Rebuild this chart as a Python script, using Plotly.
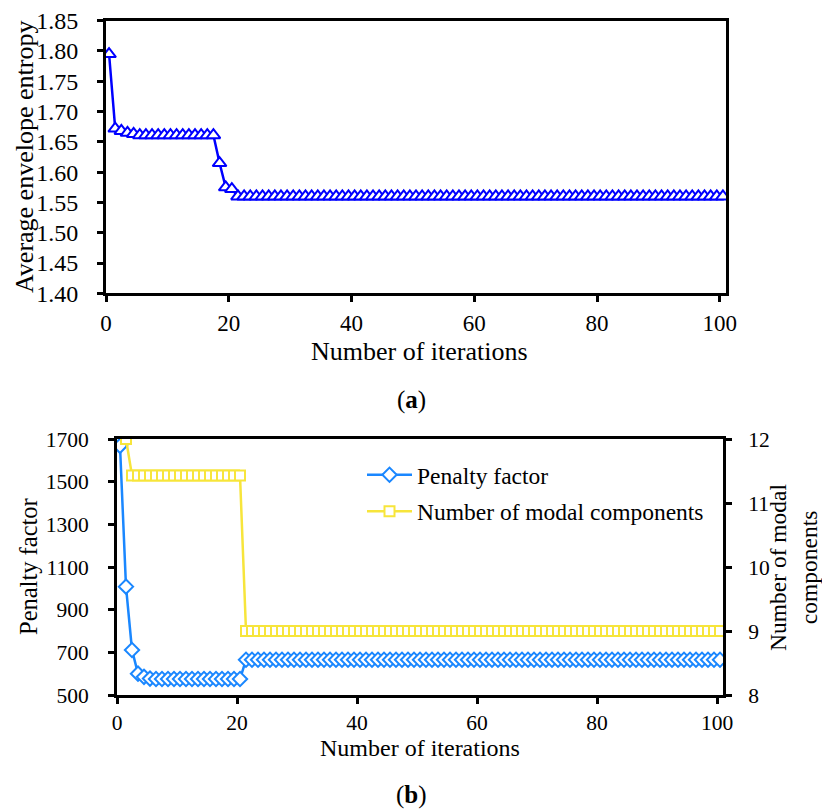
import plotly.graph_objects as go

# ---------------- data ----------------
iterations = list(range(0, 101))  # 0..100

entropy = ([1.795, 1.672, 1.668, 1.665, 1.663] + [1.661] * 13 +
           [1.615, 1.575, 1.572] + [1.560] * 80)

penalty = ([1668, 1008, 711, 600, 585, 577] + [575] * 15 + [665] * 80)

modal_iters = list(range(1, 101))
modal = [12.0] + [11.43] * 19 + [9.0] * 80

x_ticks = [0, 20, 40, 60, 80, 100]

FONT = "Liberation Serif"
W, H = 822, 809
BLUE = "#0000FF"
PBLUE = "#1A87FF"
YEL = "#F7E53B"

fig = go.Figure()

# top chart
fig.add_trace(go.Scatter(
    x=[i + 0.5 for i in iterations], y=entropy, mode="lines+markers",
    line=dict(color=BLUE, width=2.5),
    marker=dict(symbol="triangle-up", size=12, color="white",
                line=dict(color=BLUE, width=2)),
    xaxis="x", yaxis="y", showlegend=False, name="Average envelope entropy"))

# bottom chart
fig.add_trace(go.Scatter(
    x=[i + 0.5 for i in iterations], y=penalty, mode="lines+markers",
    name="Penalty factor", legendgroup="a",
    line=dict(color=PBLUE, width=2.5),
    marker=dict(symbol="diamond", size=11, color="white",
                line=dict(color=PBLUE, width=2)),
    xaxis="x2", yaxis="y2"))
fig.add_trace(go.Scatter(
    x=[i + 0.5 for i in modal_iters], y=modal, mode="lines+markers",
    name="Number of modal components", legendgroup="b",
    line=dict(color=YEL, width=2.5),
    marker=dict(symbol="square", size=10, color="white",
                line=dict(color=YEL, width=2)),
    xaxis="x2", yaxis="y3"))


def ax(size, standoff, **kw):
    d = dict(showgrid=False, zeroline=False, showline=True, automargin=False,
             linecolor="black", linewidth=3, ticks="outside",
             ticklen=6, tickwidth=2.5, tickcolor="black",
             ticklabelstandoff=standoff,
             tickfont=dict(family=FONT, size=size, color="black"))
    d.update(kw)
    return d


fig.update_layout(
    width=W, height=H,
    margin=dict(l=0, r=0, t=0, b=0, autoexpand=False),
    paper_bgcolor="white", plot_bgcolor="white",
    font=dict(family=FONT, size=22, color="black"),
    xaxis=ax(23, 1, domain=[106 / W, 726 / W], range=[0, 101],
             tickvals=x_ticks, anchor="y", mirror=True),
    yaxis=ax(24, 14, domain=[1 - 293.3 / H, 1 - 20.7 / H], range=[1.40, 1.85],
             dtick=0.05, tick0=1.40, tickformat=".2f", anchor="x",
             mirror=True),
    xaxis2=ax(21.5, 0, domain=[117 / W, 723 / W], range=[0, 101],
              tickvals=x_ticks, anchor="y2", mirror=True),
    yaxis2=ax(21.5, 15, domain=[1 - 695 / H, 1 - 439 / H], range=[500, 1700],
              dtick=200, tick0=500, anchor="x2"),
    yaxis3=ax(21.5, 12, range=[8, 12], dtick=1, tick0=8, overlaying="y2",
              side="right", anchor="x2"),
    legend=dict(x=362 / W, y=1 - 453 / H, xanchor="left", yanchor="top",
                bgcolor="rgba(0,0,0,0)", tracegroupgap=3, itemwidth=45,
                font=dict(family=FONT, size=23.5, color="black")),
)

annots = [
    dict(text="Average envelope entropy", x=24 / W, y=1 - 157 / H,
         textangle=-90, size=26),
    dict(text="Number of iterations", x=419 / W, y=1 - 351 / H, size=26),
    dict(text="(<b>a</b>)", x=411 / W, y=1 - 400 / H, size=25),
    dict(text="Penalty factor", x=28 / W, y=1 - 567 / H, textangle=-90,
         size=24.5),
    dict(text="Number of modal<br>components", x=793 / W, y=1 - 567 / H,
         textangle=-90, size=23.5),
    dict(text="Number of iterations", x=420 / W, y=1 - 748 / H, size=24),
    dict(text="(<b>b</b>)", x=411 / W, y=1 - 795 / H, size=25),
]
for a in annots:
    fig.add_annotation(text=a["text"], x=a["x"], y=a["y"], xref="paper",
                       yref="paper", showarrow=False,
                       textangle=a.get("textangle", 0),
                       xanchor="center", yanchor="middle",
                       font=dict(family=FONT, size=a["size"], color="black"))

fig.write_html("out.html", config={"displayModeBar": False},
               post_script="document.body.style.margin='0px';"
                           "document.body.style.overflow='hidden';")
